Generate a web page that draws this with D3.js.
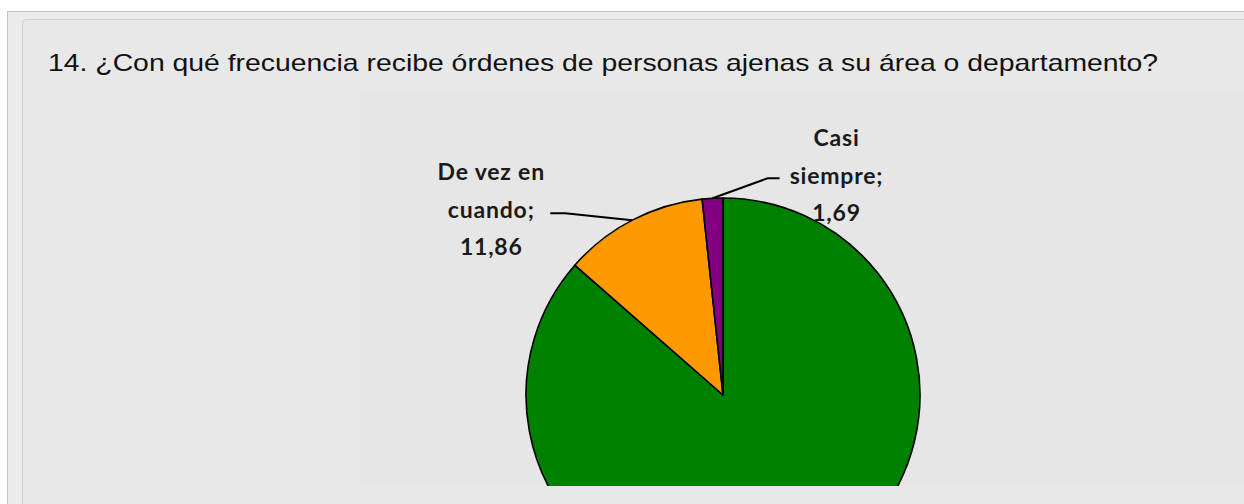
<!DOCTYPE html>
<html>
<head>
<meta charset="utf-8">
<script src="https://cdn.jsdelivr.net/npm/d3@7"></script>
<style>
  body { margin: 0; background: #ffffff; }
  svg { display: block; }
</style>
</head>
<body>
<svg class="chart"></svg>
<script>
"use strict";

var width  = 1244,
    height = 504;

var title = "14. ¿Con qué frecuencia recibe órdenes de personas ajenas a su área o departamento?";

var categories = ["Nunca", "De vez en cuando", "Casi siempre"],
    values     = [86.45, 11.86, 1.69],
    valueText  = ["86,45", "11,86", "1,69"],
    colors     = ["#008000", "#ff9900", "#800080"];

// label lines per slice (green one falls below the cropped area)
var labelLines = [["Nunca;", "86,45"], ["De vez en", "cuando;", "11,86"], ["Casi", "siempre;", "1,69"]];

var chart = d3.select(".chart")
              .attr("width", width)
              .attr("height", height);

// page frame
chart.append("rect")
        .attr("x", 7.5).attr("y", 11.5)
        .attr("width", width + 20).attr("height", height)
        .attr("fill", "#ececec")
        .attr("stroke", "#c4c4c4");

chart.append("rect")
        .attr("x", 22.5).attr("y", 19.5)
        .attr("rx", 4).attr("ry", 4)
        .attr("width", width).attr("height", height)
        .attr("fill", "#e8e8e8")
        .attr("stroke", "#d0d0d0");

chart.append("text")
        .attr("x", 48)
        .attr("y", 71)
        .attr("textLength", 1110)
        .attr("lengthAdjust", "spacingAndGlyphs")
        .style("font-family", "'Liberation Sans', Arial, sans-serif")
        .style("font-size", "24px")
        .style("fill", "#111")
        .text(title);

// embedded chart image area
var plot = {x: 360, y: 91, w: width - 360, h: 395};

chart.append("defs").append("clipPath")
        .attr("id", "plot-clip")
      .append("rect")
        .attr("x", plot.x).attr("y", plot.y)
        .attr("width", plot.w).attr("height", plot.h);

chart.append("rect")
        .attr("x", plot.x).attr("y", plot.y)
        .attr("width", plot.w).attr("height", plot.h)
        .attr("fill", "#e6e6e6");

var cx = 723, cy = 395, radius = 197;

var pie = d3.pie()
            .sort(null)
            .startAngle(0)
            .endAngle(2 * Math.PI);

var arc = d3.arc()
            .innerRadius(0)
            .outerRadius(radius);

var arcs = pie(values);

var g = chart.append("g")
              .attr("clip-path", "url(#plot-clip)")
            .append("g")
              .attr("transform", "translate(" + cx + ", " + cy + ")");

g.selectAll("path")
    .data(arcs)
    .enter()
    .append("path")
        .attr("d", arc)
        .attr("fill", function(d, i) { return colors[i]; })
        .attr("stroke", "#000")
        .attr("stroke-width", 1.6)
        .attr("stroke-linejoin", "round");

// leader lines and labels, laid out relative to slice mid-angle
var labelLayout = [
    {bend: [0, 0],    end: [0, 0],    tx: 0,    ty: 0,   show: false},
    {bend: [-67, -7], end: [-82, -7], tx: -141, ty: -40, show: true},
    {bend: [55, -20], end: [67, -20], tx: 124,  ty: -52, show: true}
];

function edgePoint(d) {
    var a = (d.startAngle + d.endAngle) / 2;
    return [radius * Math.sin(a), -radius * Math.cos(a)];
}

var lineHeight = 37.5;

arcs.forEach(function(d, i) {
    var lay = labelLayout[i];
    if (!lay.show) return;
    var p = edgePoint(d);
    var pts = [p, [p[0] + lay.bend[0], p[1] + lay.bend[1]], [p[0] + lay.end[0], p[1] + lay.end[1]]];

    g.append("path")
        .attr("d", d3.line()(pts))
        .attr("fill", "none")
        .attr("stroke", "#000")
        .attr("stroke-width", 2);

    var t = g.append("text")
        .attr("text-anchor", "middle")
        .style("font-family", "Lato, 'Open Sans', sans-serif")
        .style("font-weight", "bold")
        .style("font-size", "23px")
        .style("letter-spacing", "0.8px")
        .style("fill", "#1a1a1a");

    labelLines[i].forEach(function(line, k) {
        t.append("tspan")
            .attr("x", p[0] + lay.tx)
            .attr("y", p[1] + lay.ty + k * lineHeight)
            .text(line);
    });
});
</script>
</body>
</html>
